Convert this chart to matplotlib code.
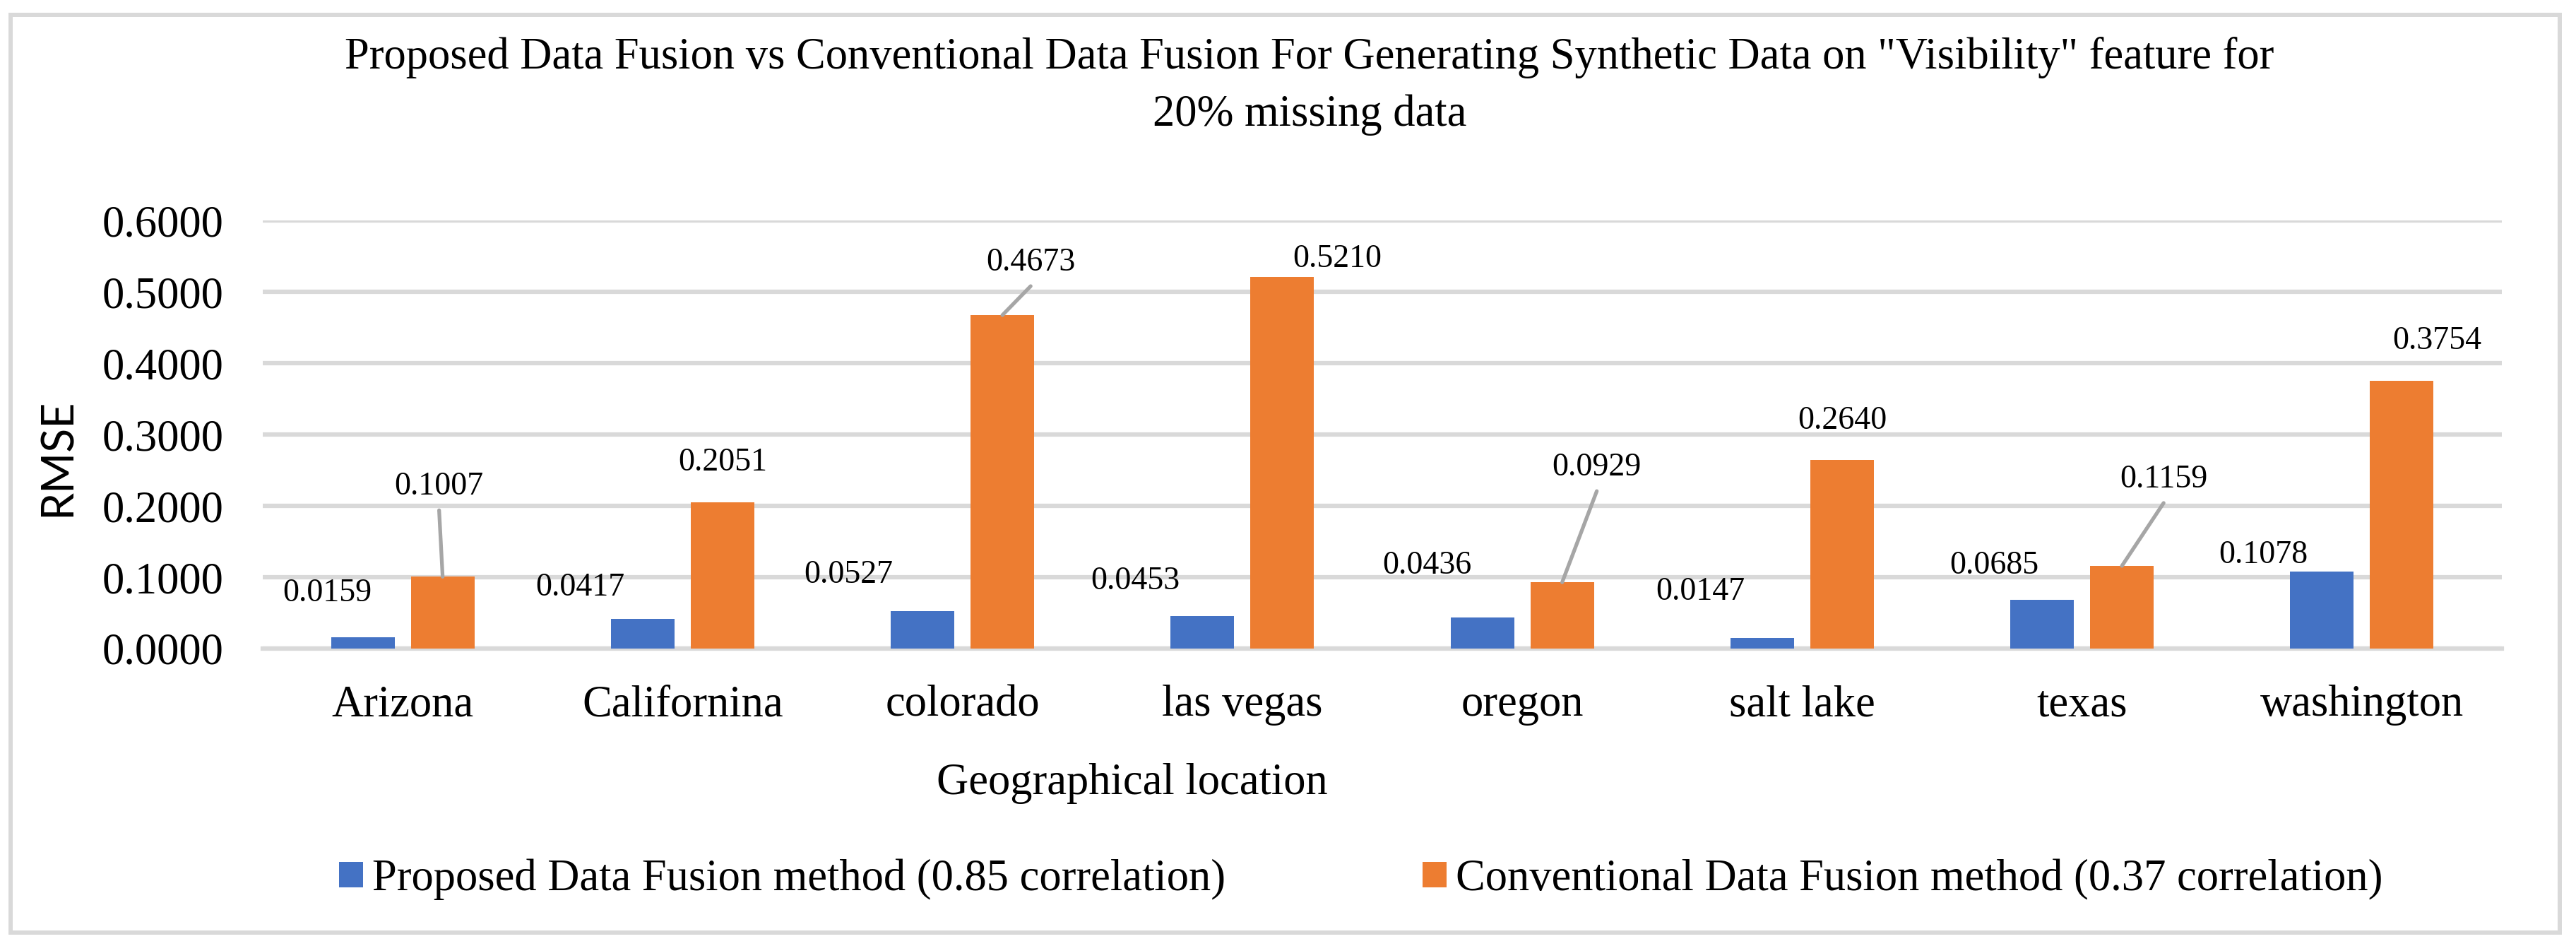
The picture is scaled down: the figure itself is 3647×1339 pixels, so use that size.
import matplotlib
matplotlib.use("Agg")
import matplotlib.pyplot as plt
import numpy as np
from matplotlib.patches import Rectangle

plt.rcParams['font.family'] = ['Liberation Serif', 'DejaVu Serif']

# data
locations = ['Arizona', 'Californina', 'colorado', 'las vegas',
             'oregon', 'salt lake', 'texas', 'washington']
proposed = [0.0159, 0.0417, 0.0527, 0.0453, 0.0436, 0.0147, 0.0685, 0.1078]
conventional = [0.1007, 0.2051, 0.4673, 0.5210, 0.0929, 0.2640, 0.1159, 0.3754]
yticks = [0.0, 0.1, 0.2, 0.3, 0.4, 0.5, 0.6]

legend_names = ['Proposed Data Fusion method (0.85 correlation)',
                'Conventional Data Fusion method (0.37 correlation)']
title_lines = ['Proposed Data Fusion vs Conventional Data Fusion For Generating '
               'Synthetic Data on "Visibility" feature for',
               '20% missing data']

# label placement (pixels, from top centre of each bar) -- labels were dragged by hand in Excel
blue_off = [(-50, 51), (-88, 33), (-105, 40), (-95, 38), (-78, 62), (-87, 54), (-68, 37), (-83, 12)]
orange_off = [(-5, 116), (0, 45), (40, 63), (78, 14), (49, 151), (0, 44), (59, 111), (50, 45)]
leaders = [True, False, True, False, True, False, True, False]

BLUE = '#4472C4'
ORANGE = '#ED7D31'
GRID = '#D9D9D9'

W, H = 3648, 1339
fig = plt.figure(figsize=(W / 100, H / 100), dpi=100)
ax = fig.add_axes([372 / W, 1 - 918 / H, 3170 / W, 606 / H])

x = np.arange(len(locations))
bw = 0.227
off = 0.1427
b1 = ax.bar(x - off, proposed, bw, color=BLUE, zorder=3)
b2 = ax.bar(x + off, conventional, bw, color=ORANGE, zorder=3)

ax.set_xlim(-0.5, len(locations) - 0.5)
ax.set_ylim(0, 0.6)
ax.set_yticks(yticks)
ax.set_yticklabels(['{:.4f}'.format(v) for v in yticks])
ax.tick_params(axis='y', length=0, pad=40, labelsize=45)
ax.set_xticks(x)
ax.set_xticklabels(locations)
ax.tick_params(axis='x', length=0, pad=37, labelsize=45)
ax.yaxis.grid(True, color=GRID, lw=4.5, zorder=0)
ax.set_axisbelow(True)
for s in ['top', 'right', 'left']:
    ax.spines[s].set_visible(False)
ax.spines['bottom'].set_color(GRID)
ax.spines['bottom'].set_linewidth(4.5)

for i in range(len(locations)):
    dx, dy = blue_off[i]
    ax.annotate('{:.4f}'.format(proposed[i]), xy=(x[i] - off, proposed[i]),
                xytext=(dx, dy), textcoords='offset pixels',
                ha='center', va='baseline', fontsize=33)
    dx, dy = orange_off[i]
    ax.annotate('{:.4f}'.format(conventional[i]), xy=(x[i] + off, conventional[i]),
                xytext=(dx, dy), textcoords='offset pixels',
                ha='center', va='baseline', fontsize=33)
    if leaders[i]:
        ax.annotate('', xy=(x[i] + off, conventional[i]),
                    xytext=(dx, dy - 22), textcoords='offset pixels',
                    arrowprops=dict(arrowstyle='-', color='#A6A6A6', lw=3.8,
                                    shrinkA=0, shrinkB=0))

fig.text(1854 / W, 1 - 97 / H, title_lines[0], ha='center', va='baseline', fontsize=45)
fig.text(1854 / W, 1 - 178 / H, title_lines[1], ha='center', va='baseline', fontsize=45)
fig.text(82 / W, 1 - 647 / H, 'RMSE', rotation=90, ha='center', va='center',
         fontsize=45, family=['Lato', 'DejaVu Sans'])
fig.text(1603 / W, 1 - 1124 / H, 'Geographical location', ha='center',
         va='baseline', fontsize=45)

fig.legend([b1, b2], legend_names, loc='center left',
           bbox_to_anchor=(480 / W, 1 - 1245 / H), ncol=2, frameon=False,
           fontsize=45, handlelength=0.54, handleheight=0.51,
           handletextpad=0.22, columnspacing=4.45, borderpad=0,
           borderaxespad=0)

# chart border
fig.patches.append(Rectangle((15 / W, 1 - 1320 / H), 3609 / W, 1299 / H,
                             transform=fig.transFigure, fill=False,
                             edgecolor=GRID, lw=4.3))

fig.savefig('out.png', dpi=100)
